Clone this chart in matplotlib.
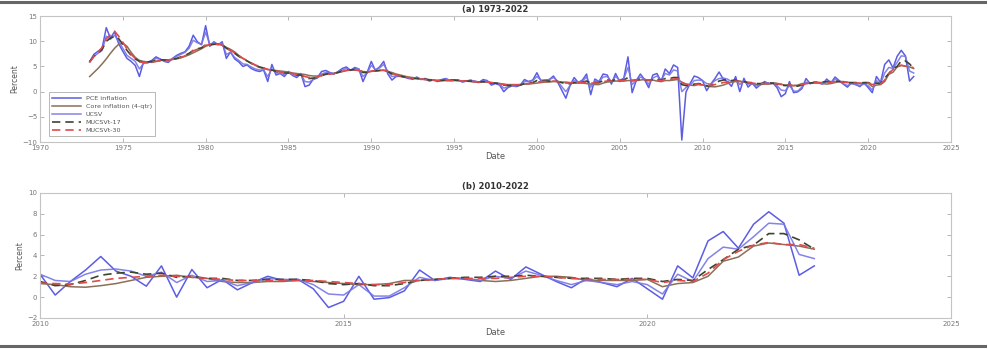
import numpy as np
import matplotlib.pyplot as plt
from matplotlib.lines import Line2D

# quarterly data, 1973Q1 - 2022Q4 (one row per year)
pce = [5.9, 7.4, 8.0, 8.6,  12.7, 10.6, 11.9, 9.5,  8.0, 6.6, 6.0, 5.2,  3.0, 5.9, 5.8, 6.2,
       6.9, 6.5, 6.0, 5.8,  6.6, 7.2, 7.6, 7.9,  9.0, 11.2, 9.9, 9.3,  13.1, 9.0, 9.9, 9.3,
       9.9, 6.6, 7.9, 6.5,  5.9, 5.0, 5.3, 4.6,  4.2, 4.0, 4.3, 2.0,  5.4, 3.3, 3.6, 3.0,
       4.0, 3.2, 2.8, 3.6,  1.0, 1.3, 2.5, 2.8,  4.0, 4.2, 3.8, 3.5,  4.0, 4.6, 4.9, 4.2,
       4.8, 4.5, 2.0, 3.8,  6.0, 4.2, 4.9, 6.0,  3.5, 2.3, 3.0, 3.1,  2.9, 2.6, 2.5, 2.9,
       2.4, 2.6, 2.1, 2.3,  2.0, 2.4, 2.6, 2.2,  2.3, 2.3, 1.9, 2.1,  2.3, 2.0, 1.8, 2.4,
       2.2, 1.3, 1.6, 1.3,  0.0, 0.8, 1.2, 1.0,  1.3, 2.4, 2.0, 2.3,  3.75, 2.1, 2.3, 2.4,
       3.1, 1.9, 0.3, -1.3,  1.2, 2.8, 1.8, 2.3,  3.5, -0.6, 2.5, 2.0,  3.5, 3.3, 1.5, 3.6,
       2.0, 2.7, 6.9, -0.2,  2.2, 3.5, 2.4, 0.8,  3.3, 3.6, 2.0, 4.5,  3.6, 5.3, 4.8, -9.6,
       -0.1, 1.6, 3.1, 2.8,  2.2, 0.2, 1.5, 2.6,  3.9, 2.5, 2.0, 1.05,  3.0, 0.0, 2.65, 0.9,
       1.7, 0.7, 1.4, 2.0,  1.6, 1.7, 0.8, -1.0,  -0.4, 2.0, -0.2, -0.05,  0.6, 2.6, 1.6, 1.9,
       1.7, 1.5, 2.5, 1.7,  2.9, 2.2, 1.5, 0.9,  1.8, 1.4, 1.0, 1.8,  0.8, -0.2, 3.0, 1.85,
       5.4, 6.3, 4.7, 7.0,  8.2, 7.1, 2.1, 3.0]

core = [3.0, 3.8, 4.6, 5.5,  6.5, 7.6, 8.6, 9.4,  9.6, 9.0, 7.8, 6.8,  6.2, 6.0, 5.9, 5.8,
        6.0, 6.2, 6.3, 6.3,  6.4, 6.5, 6.7, 7.0,  7.3, 7.7, 8.1, 8.5,  9.0, 9.3, 9.4, 9.5,
        9.3, 8.8, 8.4, 7.9,  7.2, 6.6, 6.1, 5.7,  5.2, 4.8, 4.6, 4.4,  4.3, 4.2, 4.1, 4.0,
        3.9, 3.7, 3.6, 3.5,  3.4, 3.2, 3.1, 3.1,  3.2, 3.4, 3.5, 3.6,  3.8, 4.0, 4.2, 4.3,
        4.3, 4.2, 4.0, 3.9,  4.0, 4.1, 4.2, 4.2,  4.0, 3.8, 3.5, 3.3,  3.1, 2.9, 2.8, 2.6,
        2.5, 2.4, 2.4, 2.3,  2.2, 2.2, 2.2, 2.2,  2.2, 2.2, 2.1, 2.1,  2.0, 1.9, 1.9, 1.9,
        1.9, 1.8, 1.7, 1.6,  1.5, 1.4, 1.4, 1.4,  1.4, 1.5, 1.5, 1.6,  1.7, 1.8, 1.9, 1.9,
        2.0, 2.0, 1.9, 1.9,  1.8, 1.7, 1.7, 1.7,  1.6, 1.5, 1.4, 1.4,  1.7, 1.9, 2.0, 2.1,
        2.1, 2.1, 2.2, 2.2,  2.2, 2.3, 2.4, 2.3,  2.3, 2.1, 2.0, 2.2,  2.2, 2.3, 2.4, 1.9,
        1.5, 1.3, 1.2, 1.4,  1.3, 1.2, 1.0, 0.95,  1.1, 1.3, 1.6, 1.9,  2.0, 2.1, 1.9, 1.8,
        1.5, 1.4, 1.4, 1.5,  1.5, 1.6, 1.5, 1.4,  1.3, 1.2, 1.2, 1.3,  1.6, 1.6, 1.7, 1.8,
        1.8, 1.6, 1.5, 1.6,  1.8, 2.0, 2.0, 1.9,  1.6, 1.6, 1.6, 1.6,  1.7, 1.0, 1.3, 1.4,
        2.0, 3.45, 3.85, 4.9,  5.2, 5.05, 4.9, 4.6]

ucsv = [6.0, 7.0, 7.6, 8.2,  11.0, 10.4, 11.2, 10.0,  8.6, 7.2, 6.6, 6.0,  4.5, 5.6, 5.7, 6.0,
        6.6, 6.4, 6.1, 6.0,  6.5, 7.0, 7.4, 7.8,  8.6, 10.2, 9.7, 9.4,  11.8, 9.4, 9.7, 9.4,
        9.6, 7.4, 7.8, 6.8,  6.2, 5.5, 5.4, 4.9,  4.5, 4.3, 4.3, 3.0,  4.5, 3.7, 3.7, 3.3,
        3.8, 3.4, 3.1, 3.4,  2.0, 1.9, 2.4, 2.7,  3.5, 3.8, 3.7, 3.6,  3.9, 4.3, 4.6, 4.3,
        4.6, 4.5, 3.0, 3.7,  5.2, 4.4, 4.7, 5.4,  4.0, 3.0, 3.1, 3.0,  2.9, 2.7, 2.6, 2.8,
        2.5, 2.6, 2.3, 2.3,  2.1, 2.3, 2.5, 2.3,  2.3, 2.3, 2.0, 2.1,  2.2, 2.1, 1.9, 2.2,
        2.1, 1.6, 1.7, 1.5,  0.7, 0.9, 1.1, 1.1,  1.3, 2.0, 2.0, 2.2,  3.0, 2.3, 2.3, 2.4,
        2.8, 2.1, 1.0, 0.0,  1.2, 2.2, 1.9, 2.1,  2.9, 0.9, 2.1, 2.0,  2.9, 3.0, 2.0, 3.0,
        2.3, 2.6, 4.8, 1.4,  2.2, 2.9, 2.5, 1.5,  2.7, 3.1, 2.3, 3.6,  3.3, 4.3, 4.1, 0.0,
        0.8, 1.3, 2.2, 2.3,  2.2, 1.6, 1.5, 2.2,  2.6, 2.7, 2.5, 2.0,  2.4, 1.4, 2.1, 1.5,
        1.6, 1.1, 1.4, 1.8,  1.7, 1.7, 1.2, 0.3,  0.2, 1.2, 0.1, 0.1,  0.9, 1.9, 1.6, 1.8,
        1.8, 1.6, 2.0, 1.8,  2.5, 2.1, 1.6, 1.2,  1.6, 1.4, 1.2, 1.5,  1.2, 0.3, 2.2, 1.5,
        3.7, 4.8, 4.6, 5.8,  7.1, 7.0, 4.1, 3.7]

mucsv17 = [6.0, 7.0, 7.6, 8.4,  10.0, 10.6, 11.0, 10.5,  9.4, 8.2, 7.2, 6.5,  6.0, 5.9, 5.9, 6.0,
           6.2, 6.3, 6.3, 6.3,  6.4, 6.6, 6.9, 7.2,  7.6, 8.2, 8.5, 8.7,  9.3, 9.3, 9.4, 9.4,
           9.3, 8.6, 8.2, 7.6,  7.0, 6.5, 6.1, 5.6,  5.2, 4.9, 4.7, 4.3,  4.3, 4.0, 3.9, 3.7,
           3.7, 3.5, 3.3, 3.3,  2.8, 2.6, 2.7, 2.8,  3.2, 3.5, 3.6, 3.6,  3.8, 4.1, 4.3, 4.3,
           4.4, 4.3, 3.8, 3.8,  4.2, 4.1, 4.2, 4.4,  4.0, 3.5, 3.3, 3.1,  2.9, 2.7, 2.6, 2.6,
           2.5, 2.5, 2.3, 2.3,  2.2, 2.2, 2.3, 2.3,  2.3, 2.2, 2.1, 2.1,  2.1, 2.0, 1.9, 2.0,
           1.9, 1.7, 1.7, 1.6,  1.3, 1.2, 1.2, 1.2,  1.3, 1.6, 1.7, 1.8,  2.2, 2.1, 2.1, 2.1,
           2.2, 2.0, 1.8, 1.5,  1.6, 1.8, 1.8, 1.9,  2.1, 1.7, 1.8, 1.8,  2.2, 2.3, 2.1, 2.4,
           2.2, 2.3, 2.8, 2.2,  2.3, 2.5, 2.4, 2.2,  2.4, 2.5, 2.3, 2.6,  2.6, 2.8, 2.8, 1.4,
           1.2, 1.2, 1.5, 1.6,  1.5, 1.1, 1.2, 1.6,  2.1, 2.3, 2.4, 2.2,  2.3, 1.9, 2.0, 1.8,
           1.8, 1.6, 1.6, 1.7,  1.7, 1.7, 1.6, 1.3,  1.2, 1.3, 1.1, 1.1,  1.3, 1.6, 1.7, 1.8,
           1.9, 1.9, 2.0, 2.0,  2.1, 2.0, 1.9, 1.8,  1.8, 1.8, 1.7, 1.8,  1.8, 1.5, 1.7, 1.6,
           2.65, 3.6, 4.6, 5.0,  6.1, 6.1, 5.5, 4.6]

mucsv30 = [5.8, 7.0, 7.8, 8.8,  10.5, 11.3, 12.0, 11.0,  9.8, 8.5, 7.4, 6.6,  5.9, 5.8, 5.8, 5.9,
           6.0, 6.1, 6.2, 6.3,  6.4, 6.6, 6.8, 7.1,  7.5, 8.1, 8.4, 8.7,  9.2, 9.3, 9.4, 9.4,
           9.2, 8.6, 8.2, 7.7,  7.1, 6.6, 6.2, 5.7,  5.3, 5.0, 4.7, 4.4,  4.3, 4.1, 3.9, 3.8,
           3.7, 3.6, 3.4, 3.3,  3.0, 2.8, 2.8, 2.9,  3.2, 3.4, 3.5, 3.6,  3.8, 4.0, 4.2, 4.3,
           4.3, 4.2, 3.9, 3.8,  4.1, 4.1, 4.2, 4.3,  4.0, 3.6, 3.3, 3.1,  2.9, 2.8, 2.7, 2.6,
           2.5, 2.4, 2.4, 2.3,  2.2, 2.2, 2.2, 2.2,  2.2, 2.2, 2.1, 2.1,  2.0, 2.0, 1.9, 1.9,
           1.9, 1.8, 1.7, 1.6,  1.4, 1.3, 1.3, 1.3,  1.4, 1.5, 1.6, 1.7,  1.9, 2.0, 2.0, 2.0,
           2.1, 2.0, 1.9, 1.7,  1.7, 1.8, 1.8, 1.8,  1.9, 1.7, 1.7, 1.7,  2.0, 2.1, 2.1, 2.2,
           2.2, 2.2, 2.5, 2.2,  2.3, 2.4, 2.4, 2.3,  2.3, 2.3, 2.2, 2.4,  2.4, 2.5, 2.6, 1.8,
           1.5, 1.4, 1.5, 1.5,  1.35, 1.3, 1.25, 1.4,  1.6, 1.8, 1.9, 2.0,  2.1, 2.0, 1.9, 1.8,
           1.7, 1.6, 1.6, 1.6,  1.6, 1.6, 1.6, 1.5,  1.4, 1.3, 1.2, 1.2,  1.4, 1.6, 1.7, 1.8,
           1.8, 1.8, 1.8, 1.9,  2.0, 2.0, 1.9, 1.8,  1.7, 1.7, 1.7, 1.7,  1.7, 1.4, 1.6, 1.5,
           2.3, 3.6, 4.4, 5.0,  5.25, 5.05, 5.05, 4.7]

fecha = 1973 + np.arange(len(pce)) / 4.0

series = [
    (pce, 'PCE inflation', dict(color='#4b4be0', lw=1.1, ls='-', alpha=0.9)),
    (core, 'Core inflation (4-qtr)', dict(color='#8a7058', lw=1.1, ls='-')),
    (ucsv, 'UCSV', dict(color='#7676e6', lw=1.1, ls='-', alpha=0.9)),
    (mucsv17, 'MUCSVt-17', dict(color='#3c4430', lw=1.2, ls=(0, (5, 3)))),
    (mucsv30, 'MUCSVt-30', dict(color='#e04a4a', lw=1.2, ls=(0, (5, 3)))),
]

fig = plt.figure(figsize=(9.88, 3.49), dpi=100)
ax1 = fig.add_axes([0.0405, 0.593, 0.922, 0.361])
ax2 = fig.add_axes([0.0405, 0.089, 0.922, 0.358])

gris = '#777777'
for ax in (ax1, ax2):
    for datos, nombre, est in series:
        ax.plot(fecha, datos, label=nombre, **est)
    for s in ax.spines.values():
        s.set_color('#c4c4c4')
        s.set_linewidth(0.8)
    ax.tick_params(direction='in', top=True, right=True, length=3, width=0.6,
                   color='#aaaaaa', labelsize=5, labelcolor=gris, pad=2)
    ax.set_ylabel('Percent', fontsize=5.5, color='#555555', labelpad=2)
    ax.set_xlabel('Date', fontsize=6, color='#555555', labelpad=1)

ax1.set_xlim(1970, 2025)
ax1.set_ylim(-10, 15)
ax1.set_xticks(range(1970, 2026, 5))
ax1.set_yticks(range(-10, 16, 5))
ax1.set_title('(a) 1973-2022', fontsize=6, fontweight='bold', color='#333333', pad=3)
leg = ax1.legend(loc='lower left', fontsize=4.6, frameon=True, fancybox=False,
                 edgecolor='#999999', handlelength=4.5, borderpad=0.5, labelspacing=0.4,
                 bbox_to_anchor=(0.006, 0.02))
leg.get_frame().set_linewidth(0.6)
for t in leg.get_texts():
    t.set_color('#555555')

ax2.set_xlim(2010, 2025)
ax2.set_ylim(-2, 10)
ax2.set_xticks([2010, 2015, 2020, 2025])
ax2.set_yticks(range(-2, 11, 2))
ax2.set_title('(b) 2010-2022', fontsize=6, fontweight='bold', color='#333333', pad=3)

# marco gris de la captura
fig.add_artist(Line2D([0.0, 0.997], [0.995, 0.995], color='#666666', lw=2.2))
fig.add_artist(Line2D([0.0, 0.997], [0.010, 0.010], color='#666666', lw=2.2))

fig.savefig('out.png', dpi=100)
